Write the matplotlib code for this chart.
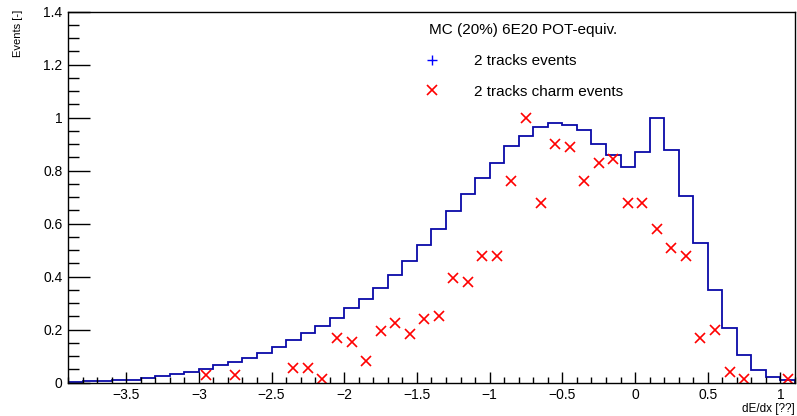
import numpy as np
import matplotlib.pyplot as plt
from matplotlib.lines import Line2D
from matplotlib.ticker import MultipleLocator, FuncFormatter

plt.rcParams['font.family'] = ['Liberation Sans', 'DejaVu Sans']

# histogram binning: 50 bins of 0.1 in dE/dx from -3.9 to 1.1
bin_edges = np.round(np.linspace(-3.9, 1.1, 51), 2)
bin_centers = (bin_edges[:-1] + bin_edges[1:]) / 2

# 2 tracks events (normalised histogram)
all_events = [0.004, 0.005, 0.006, 0.010, 0.012, 0.018, 0.026, 0.034, 0.042, 0.053,
              0.068, 0.078, 0.094, 0.113, 0.136, 0.160, 0.189, 0.215, 0.243, 0.283,
              0.315, 0.357, 0.408, 0.458, 0.520, 0.580, 0.647, 0.713, 0.774, 0.829,
              0.893, 0.931, 0.965, 0.981, 0.971, 0.952, 0.902, 0.860, 0.815, 0.869,
              1.000, 0.879, 0.706, 0.526, 0.350, 0.206, 0.103, 0.048, 0.021, 0.009]

# 2 tracks charm events (empty bins are not drawn)
nan = np.nan
charm_events = [nan, nan, nan, nan, nan, nan, nan, nan, nan, 0.029,
                nan, 0.029, nan, nan, nan, 0.057, 0.057, 0.013, 0.170, 0.155,
                0.083, 0.196, 0.224, 0.183, 0.240, 0.253, 0.394, 0.381, 0.479, 0.479,
                0.760, 1.000, 0.677, 0.902, 0.889, 0.760, 0.830, 0.845, 0.677, 0.677,
                0.579, 0.507, 0.479, 0.170, 0.198, 0.042, 0.014, nan, nan, 0.014]

fig = plt.figure(figsize=(7.97, 4.16), dpi=100)
ax = fig.add_axes([0.0853, 0.080, 0.9122, 0.892])

ax.stairs(all_events, bin_edges, color='#0a0aa8', linewidth=1.3)
ax.plot(bin_centers, charm_events, linestyle='none', marker='x', color='#ff0000',
        markersize=6.5, markeredgewidth=1.2)

ax.set_xlim(-3.9, 1.1)
ax.set_ylim(0, 1.4)

# ROOT style labels: "1" instead of "1.0" and a real minus sign
fmt = FuncFormatter(lambda v, pos: ('%g' % round(v, 3)).replace('-', '\u2212'))
ax.xaxis.set_major_locator(MultipleLocator(0.5))
ax.xaxis.set_minor_locator(MultipleLocator(0.1))
ax.yaxis.set_major_locator(MultipleLocator(0.2))
ax.yaxis.set_minor_locator(MultipleLocator(0.05))
ax.xaxis.set_major_formatter(fmt)
ax.yaxis.set_major_formatter(fmt)
ax.tick_params(axis='both', which='both', direction='in', labelsize=10, width=1)
ax.tick_params(axis='y', which='major', length=15.8, pad=4)
ax.tick_params(axis='y', which='minor', length=7.9)
ax.tick_params(axis='x', which='major', length=8, pad=4)
ax.tick_params(axis='x', which='minor', length=4.3)
for s in ax.spines.values():
    s.set_linewidth(1)

ax.set_xlabel('dE/dx [??]', loc='right', fontsize=8.5)
ax.xaxis.set_label_coords(1.0, -0.054)
ax.set_ylabel('Events [-]', loc='top', fontsize=8)
ax.yaxis.set_label_coords(-0.062, 1.005)

handles = [Line2D([], [], linestyle='none', marker='+', color='#0000ff', markersize=7),
           Line2D([], [], linestyle='none', marker='x', color='#ff0000', markersize=6.5,
                  markeredgewidth=1.2)]
ax.legend(handles, ['2 tracks events', '2 tracks charm events'],
          title='MC (20%) 6E20 POT-equiv.', title_fontsize=11, fontsize=11,
          loc='upper left', bbox_to_anchor=(0.478, 1.006), frameon=False,
          alignment='left', handlelength=0.4, handletextpad=2.5, labelspacing=1.1)

fig.savefig('out.png', dpi=100)
